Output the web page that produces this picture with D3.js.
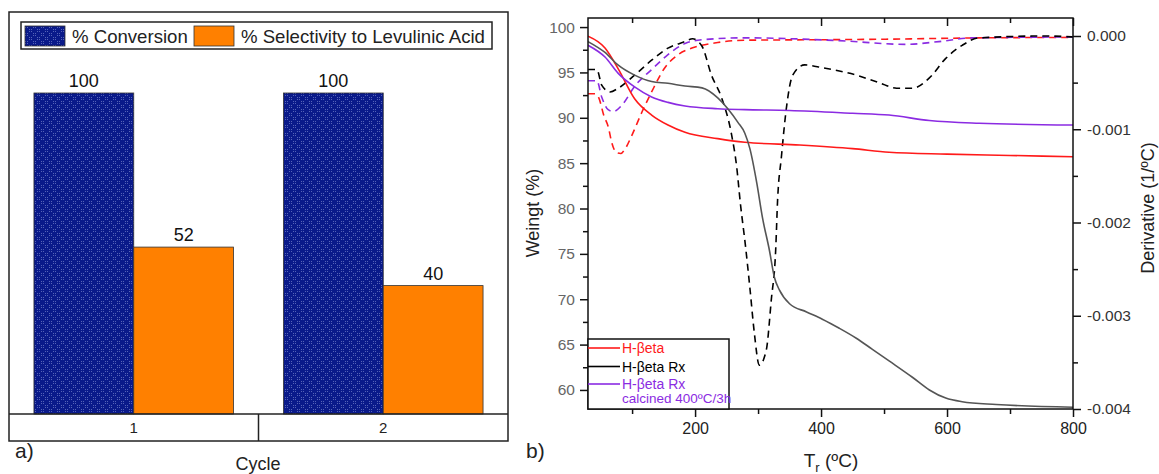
<!DOCTYPE html>
<html><head><meta charset="utf-8">
<script src="https://cdn.jsdelivr.net/npm/d3@7"></script>
<style>body{margin:0;background:#fff} svg{display:block;font-family:"Liberation Sans",Arial,sans-serif}</style>
</head><body><svg id="c" width="1159" height="474"></svg>
<script>
// ---------- Panel a) data ----------
const cycles = ["1", "2"];
const conversion = [100, 100];
const selectivity = [52, 40];
const seriesNames = ["% Conversion", "% Selectivity to Levulinic Acid"];

// ---------- Panel b) data : [temperature °C, value] ----------
const weightTicks = [60, 65, 70, 75, 80, 85, 90, 95, 100];
const derivTicks = [0, -0.001, -0.002, -0.003, -0.004];
const tempTicks = [200, 400, 600, 800];
const tempMinorTicks = [100, 300, 500, 700];

const hbetaWeight = [[30,99.0],[57,97.7],[78,95.4],[104,92.1],[131,90.3],[157,89.2],[184,88.4],[236,87.7],[279,87.3],[366,87.0],[450,86.6],[508,86.2],[600,86.0],[700,85.85],[800,85.7]];
const rxWeight = [[30,98.4],[57,97.2],[78,95.8],[104,94.7],[131,94.0],[157,93.8],[184,93.5],[211,93.3],[236,92.2],[252,91.0],[268,89.5],[279,88.3],[287,86.6],[298,82.8],[307,79.0],[318,75.4],[326,72.4],[334,71.0],[350,69.5],[377,68.6],[402,67.8],[429,66.8],[456,65.7],[481,64.5],[508,63.2],[545,61.4],[572,60.0],[598,59.1],[624,58.7],[678,58.4],[800,58.1]];
const calcWeight = [[30,98.0],[57,96.7],[78,94.9],[104,93.4],[131,92.3],[157,91.7],[184,91.3],[236,91.0],[279,90.9],[350,90.8],[450,90.5],[508,90.3],[572,89.7],[651,89.4],[800,89.2]];

const hbetaDeriv = [[30,-0.00062],[41,-0.00062],[47,-0.00066],[55,-0.00085],[62,-0.00097],[68,-0.00115],[75,-0.00125],[82,-0.00126],[88,-0.00122],[100,-0.00106],[116,-0.00081],[131,-0.0006],[152,-0.00034],[173,-0.0002],[195,-0.00013],[236,-0.00007],[279,-0.000045],[400,-0.00004],[492,-0.000035],[651,-0.00002],[800,-0.000015]];
const rxDeriv = [[30,-0.00036],[44,-0.00036],[52,-0.00053],[65,-0.0006],[78,-0.00056],[104,-0.00042],[131,-0.00026],[157,-0.00013],[184,-0.00006],[196,-0.00003],[211,-0.00011],[226,-0.00042],[242,-0.00066],[258,-0.00106],[266,-0.0014],[272,-0.0018],[280,-0.00225],[287,-0.0027],[294,-0.00318],[302,-0.00353],[313,-0.00337],[321,-0.00283],[328,-0.00229],[331,-0.00176],[337,-0.0013],[345,-0.00077],[355,-0.00042],[374,-0.00031],[402,-0.00034],[456,-0.00042],[492,-0.0005],[520,-0.00056],[545,-0.00056],[572,-0.00045],[598,-0.00024],[624,-0.0001],[651,-0.00002],[757,0.0],[800,-0.00001]];
const calcDeriv = [[30,-0.00048],[44,-0.00048],[52,-0.00066],[62,-0.00079],[70,-0.00081],[84,-0.00074],[104,-0.00054],[131,-0.00036],[157,-0.0002],[184,-0.00008],[211,-0.00004],[279,-0.00002],[429,-0.00005],[535,-0.00009],[587,-0.00006],[640,-0.00002],[800,-0.00001]];

const svg = d3.select("#c");
const defs = svg.append("defs");

// dotted navy pattern
const pat = defs.append("pattern").attr("id","navy").attr("patternUnits","userSpaceOnUse")
  .attr("width",8).attr("height",8);
pat.append("rect").attr("width",8).attr("height",8).attr("fill","#0a1a8a");
[[1,1],[3,1],[1,3],[3,3],[5,5],[7,5],[5,7],[7,7]].forEach(([a,b]) =>
  pat.append("rect").attr("x",a).attr("y",b).attr("width",1).attr("height",1).attr("fill","#5563b8"));

// ================= Panel a =================
const aLeft = 9, aRight = 508, aTop = 12, aBase = 414, aBottom = 441;
const xa = d3.scaleBand().domain(cycles).range([aLeft, aRight]).paddingInner(0).paddingOuter(0);
const xs = d3.scaleBand().domain([0,1]).range([0, xa.bandwidth()]).paddingInner(0).paddingOuter(0.25);
const ya = d3.scaleLinear().domain([0,100]).range([aBase, 93]);
const colors = ["url(#navy)", "#ff8000"];
const valuesBy = [conversion, selectivity];

const ga = svg.append("g");
cycles.forEach((c, i) => {
  [0,1].forEach(s => {
    const v = valuesBy[s][i];
    const x0 = xa(c) + xs(s);
    ga.append("rect").attr("x", x0).attr("y", ya(v)).attr("width", xs.bandwidth())
      .attr("height", ya(0) - ya(v)).attr("fill", colors[s]).attr("stroke", "#333").attr("stroke-width", 0.8);
    ga.append("text").attr("x", x0 + xs.bandwidth()/2).attr("y", ya(v) - 6)
      .attr("text-anchor","middle").attr("font-size",18).attr("fill","#111").text(v);
  });
  ga.append("text").attr("x", xa(c) + xa.bandwidth()/2).attr("y", 433)
    .attr("text-anchor","middle").attr("font-size",15).attr("fill","#222").text(c);
});
// frame, baseline & separator
ga.append("rect").attr("x",aLeft).attr("y",aTop).attr("width",aRight-aLeft).attr("height",aBottom-aTop)
  .attr("fill","none").attr("stroke","#222").attr("stroke-width",1.5);
ga.append("line").attr("x1",aLeft).attr("x2",aRight).attr("y1",aBase).attr("y2",aBase).attr("stroke","#222").attr("stroke-width",1.5);
ga.append("line").attr("x1",xa("2")).attr("x2",xa("2")).attr("y1",aBase).attr("y2",aBottom).attr("stroke","#222").attr("stroke-width",1.5);
// legend
ga.append("rect").attr("x",21).attr("y",22).attr("width",471).attr("height",27)
  .attr("fill","#fff").attr("stroke","#222").attr("stroke-width",1.5);
ga.append("rect").attr("x",25).attr("y",26).attr("width",40).attr("height",20).attr("fill",colors[0]).attr("stroke","#333").attr("stroke-width",0.8);
ga.append("text").attr("x",72).attr("y",43).attr("font-size",18.6).attr("fill","#222").text(seriesNames[0]);
ga.append("rect").attr("x",194).attr("y",26).attr("width",40).attr("height",20).attr("fill",colors[1]).attr("stroke","#333").attr("stroke-width",0.8);
ga.append("text").attr("x",241).attr("y",43).attr("font-size",18.6).attr("fill","#222").text(seriesNames[1]);
ga.append("text").attr("x",15).attr("y",458).attr("font-size",21).attr("fill","#222").text("a)");
ga.append("text").attr("x",258).attr("y",470).attr("text-anchor","middle").attr("font-size",18).attr("fill","#222").text("Cycle");

// ================= Panel b =================
const L = 588, R = 1073, T = 18, B = 409;
const x = d3.scaleLinear().domain([30, 800]).range([L, R]);
const yW = d3.scaleLinear().domain([57.9, 101]).range([B, T]);
const yD = d3.scaleLinear().domain([-0.004, 0.000193]).range([B, T]);

defs.append("clipPath").attr("id","plot").append("rect").attr("x",L).attr("y",T).attr("width",R-L).attr("height",B-T);
const gb = svg.append("g");
const plot = gb.append("g").attr("clip-path","url(#plot)");

const lineW = d3.line().x(d => x(d[0])).y(d => yW(d[1])).curve(d3.curveMonotoneX);
const lineD = d3.line().x(d => x(d[0])).y(d => yD(d[1])).curve(d3.curveMonotoneX);
const red = "#ff1a1a", blk = "#555555", pur = "#8b2be2";
const dash = "7,5";

plot.append("path").attr("d", lineD(hbetaDeriv)).attr("fill","none").attr("stroke",red).attr("stroke-width",1.6).attr("stroke-dasharray",dash);
plot.append("path").attr("d", lineD(calcDeriv)).attr("fill","none").attr("stroke",pur).attr("stroke-width",1.6).attr("stroke-dasharray",dash);
plot.append("path").attr("d", lineD(rxDeriv)).attr("fill","none").attr("stroke","#000").attr("stroke-width",1.6).attr("stroke-dasharray",dash);
plot.append("path").attr("d", lineW(hbetaWeight)).attr("fill","none").attr("stroke",red).attr("stroke-width",1.6);
plot.append("path").attr("d", lineW(calcWeight)).attr("fill","none").attr("stroke",pur).attr("stroke-width",1.6);
plot.append("path").attr("d", lineW(rxWeight)).attr("fill","none").attr("stroke",blk).attr("stroke-width",1.6);

function styleAxis(g, color, fs){
  g.select(".domain").remove();
  g.selectAll(".tick line").attr("stroke","#111").attr("stroke-width",1.5);
  g.selectAll(".tick text").attr("fill",color).attr("font-size",fs).attr("font-family",'"Liberation Sans",Arial,sans-serif');
}
// left axis
const minorW = d3.range(57.5, 101, 2.5).filter(v => v >= 57.9 && !weightTicks.includes(v));
gb.append("g").attr("transform",`translate(${L},0)`)
  .call(d3.axisLeft(yW).tickValues(minorW).tickSize(5).tickFormat("")).call(g => styleAxis(g,"#666",15.5));
gb.append("g").attr("transform",`translate(${L},0)`)
  .call(d3.axisLeft(yW).tickValues(weightTicks).tickSize(8).tickPadding(5).tickFormat(d3.format("d"))).call(g => styleAxis(g,"#666",15.5));
// right axis
const minorD = [-0.0005,-0.0015,-0.0025,-0.0035];
gb.append("g").attr("transform",`translate(${R},0)`)
  .call(d3.axisRight(yD).tickValues(minorD).tickSize(5).tickFormat("")).call(g => styleAxis(g,"#333",15.5));
gb.append("g").attr("transform",`translate(${R},0)`)
  .call(d3.axisRight(yD).tickValues(derivTicks).tickSize(8).tickPadding(6).tickFormat(d => d.toFixed(3))).call(g => styleAxis(g,"#333",15.5));
// bottom axis
gb.append("g").attr("transform",`translate(0,${B})`)
  .call(d3.axisBottom(x).tickValues(tempMinorTicks).tickSize(5).tickFormat("")).call(g => styleAxis(g,"#222",16));
gb.append("g").attr("transform",`translate(0,${B})`)
  .call(d3.axisBottom(x).tickValues(tempTicks).tickSize(8).tickPadding(6).tickFormat(d3.format("d"))).call(g => styleAxis(g,"#222",16));
// top axis (inward ticks)
gb.append("g").attr("transform",`translate(0,${T})`)
  .call(d3.axisBottom(x).tickValues(tempMinorTicks).tickSize(5).tickFormat("")).call(g => styleAxis(g,"#222",16));
gb.append("g").attr("transform",`translate(0,${T})`)
  .call(d3.axisBottom(x).tickValues(tempTicks).tickSize(8).tickFormat("")).call(g => styleAxis(g,"#222",16));
// frame
gb.append("rect").attr("x",L).attr("y",T).attr("width",R-L).attr("height",B-T)
  .attr("fill","none").attr("stroke","#111").attr("stroke-width",1.5);

// legend
const lg = gb.append("g");
lg.append("rect").attr("x",L).attr("y",339).attr("width",141).attr("height",B-339)
  .attr("fill","#fff").attr("stroke","#111").attr("stroke-width",1.5);
const legItems = [
  {c: red, t: "H-βeta", y: 348},
  {c: "#000", t: "H-βeta Rx", y: 366.5},
  {c: pur, t: "H-βeta Rx", y: 384}
];
legItems.forEach(it => {
  lg.append("line").attr("x1",L).attr("x2",620).attr("y1",it.y).attr("y2",it.y).attr("stroke",it.c).attr("stroke-width",1.6);
  lg.append("text").attr("x",622).attr("y",it.y+5).attr("font-size",14).attr("fill",it.c).text(it.t);
});
lg.append("text").attr("x",622).attr("y",403).attr("font-size",13.5).attr("fill",pur).text("calcined 400ºC/3h");

// axis titles
gb.append("text").attr("transform","translate(539,213) rotate(-90)").attr("text-anchor","middle")
  .attr("font-size",18).attr("fill","#222").text("Weingt (%)");
gb.append("text").attr("transform","translate(1154,208) rotate(-90)").attr("text-anchor","middle")
  .attr("font-size",18).attr("fill","#222").text("Derivative (1/ºC)");
const tt = gb.append("text").attr("x",831).attr("y",467).attr("text-anchor","middle").attr("font-size",19).attr("fill","#222");
tt.append("tspan").text("T");
tt.append("tspan").attr("font-size",13).attr("dy",5).text("r");
tt.append("tspan").attr("dy",-5).text(" (ºC)");
gb.append("text").attr("x",526).attr("y",458).attr("font-size",21).attr("fill","#222").text("b)");
</script></body></html>
